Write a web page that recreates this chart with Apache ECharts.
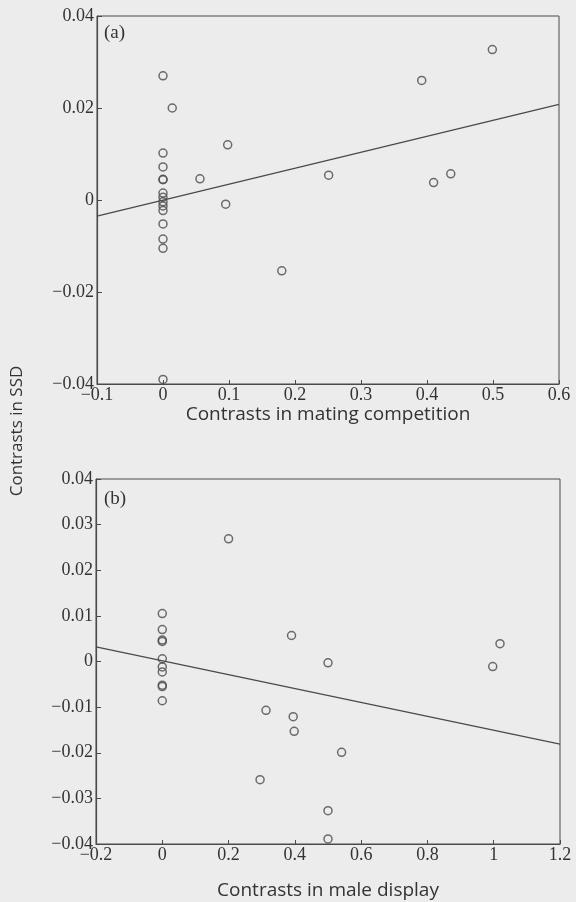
<!DOCTYPE html>
<html>
<head>
<meta charset="utf-8">
<script src="https://cdn.jsdelivr.net/npm/echarts@6/dist/echarts.min.js"></script>
<style>
  html, body { margin: 0; padding: 0; background: #ececec; }
  #chart { width: 576px; height: 902px; }
</style>
</head>
<body>
<div id="chart"></div>
<script>
// Panel (a): contrasts in mating competition vs contrasts in SSD
const matingX = [0, 0.014, 0, 0, 0, 0, 0.056, 0.098, 0, 0, 0, 0, 0, 0.095, 0, 0, 0, 0.18, 0, 0.499, 0.392, 0.251, 0.41, 0.436];
const matingY = [0.027, 0.020, 0.0102, 0.0072, 0.0045, 0.0044, 0.0046, 0.012, 0.0015, 0.0006, -0.0004, -0.0013, -0.0023, -0.0009, -0.0052, -0.0085, -0.0105, -0.0154, -0.039, 0.0327, 0.026, 0.0054, 0.0038, 0.0057];
const matingFitX = [-0.1, 0.6];
const matingFitY = [-0.0035, 0.0208];

// Panel (b): contrasts in male display vs contrasts in SSD
const displayX = [0.2, 0, 0, 0, 0, 0.39, 0, 0, 0, 0, 0, 0, 0.313, 0.395, 0.398, 0.295, 1.019, 0.997, 0.5, 0.541, 0.5, 0.5];
const displayY = [0.0269, 0.0105, 0.007, 0.0047, 0.0044, 0.0057, 0.0006, -0.0012, -0.0023, -0.0052, -0.0055, -0.0086, -0.0107, -0.0121, -0.0153, -0.0259, 0.0039, -0.0011, -0.0003, -0.0199, -0.0327, -0.0389];
const displayFitX = [-0.2, 1.2];
const displayFitY = [0.0032, -0.0181];

const xTitleA = 'Contrasts in mating competition';
const xTitleB = 'Contrasts in male display';
const yTitle = 'Contrasts in SSD';
const panelA = '(a)';
const panelB = '(b)';

const ink = '#4a4a4a';
const tickFont = 'Liberation Serif';
const titleFont = 'Open Sans';

function zip(xs, ys) { return xs.map((x, i) => [x, ys[i]]); }
function fmt(v) {
  const s = String(+v.toFixed(3));
  return s.replace('-', '\u2212');
}

function xAxisOf(idx, min, max, interval, name, gap) {
  return {
    gridIndex: idx, type: 'value', min, max, interval,
    name, nameLocation: 'middle', nameGap: gap,
    nameTextStyle: { fontFamily: titleFont, fontSize: 19, color: '#333' },
    axisLine: { show: true, onZero: false, lineStyle: { color: ink, width: 1.2 } },
    axisTick: { show: true, inside: true, length: 4, lineStyle: { color: ink } },
    axisLabel: { margin: 2, fontFamily: tickFont, fontSize: 18, color: '#333', formatter: fmt,
                 showMinLabel: true, showMaxLabel: true },
    splitLine: { show: false }
  };
}
function yAxisOf(idx, min, max, interval) {
  return {
    gridIndex: idx, type: 'value', min, max, interval,
    axisLine: { show: true, onZero: false, lineStyle: { color: ink, width: 1.2 } },
    axisTick: { show: true, inside: true, length: 5, lineStyle: { color: ink } },
    axisLabel: { margin: 3, fontFamily: tickFont, fontSize: 18, color: '#333', formatter: fmt,
                 showMinLabel: true, showMaxLabel: true },
    splitLine: { show: false }
  };
}

const pointStyle = { color: 'transparent', borderColor: ink, borderWidth: 1.5 };

const chart = echarts.init(document.getElementById('chart'), null, { renderer: 'canvas' });
chart.setOption({
  backgroundColor: '#ececec',
  animation: false,
  grid: [
    { left: 97, top: 16, width: 462, height: 368, show: true, borderColor: ink, borderWidth: 1, backgroundColor: 'transparent' },
    { left: 96, top: 479, width: 464, height: 365, show: true, borderColor: ink, borderWidth: 1, backgroundColor: 'transparent' }
  ],
  xAxis: [
    xAxisOf(0, -0.1, 0.6, 0.1, xTitleA, 14),
    xAxisOf(1, -0.2, 1.2, 0.2, xTitleB, 37)
  ],
  yAxis: [
    yAxisOf(0, -0.04, 0.04, 0.02),
    yAxisOf(1, -0.04, 0.04, 0.01)
  ],
  series: [
    { type: 'line', xAxisIndex: 0, yAxisIndex: 0, data: zip(matingFitX, matingFitY),
      showSymbol: false, lineStyle: { color: ink, width: 1.3 }, silent: true },
    { type: 'scatter', xAxisIndex: 0, yAxisIndex: 0, data: zip(matingX, matingY),
      symbol: 'circle', symbolSize: 8, itemStyle: pointStyle },
    { type: 'line', xAxisIndex: 1, yAxisIndex: 1, data: zip(displayFitX, displayFitY),
      showSymbol: false, lineStyle: { color: ink, width: 1.3 }, silent: true },
    { type: 'scatter', xAxisIndex: 1, yAxisIndex: 1, data: zip(displayX, displayY),
      symbol: 'circle', symbolSize: 8, itemStyle: pointStyle }
  ],
  graphic: [
    { type: 'text', left: 104, top: 24, style: { text: panelA, font: '19px "Liberation Serif"', fill: '#333' } },
    { type: 'text', left: 104, top: 490, style: { text: panelB, font: '19px "Liberation Serif"', fill: '#333' } },
    { type: 'text', x: 17, y: 431, rotation: Math.PI / 2,
      style: { text: yTitle, font: '17px "Open Sans"', fill: '#333', align: 'center', verticalAlign: 'middle' } }
  ]
});
</script>
</body>
</html>
